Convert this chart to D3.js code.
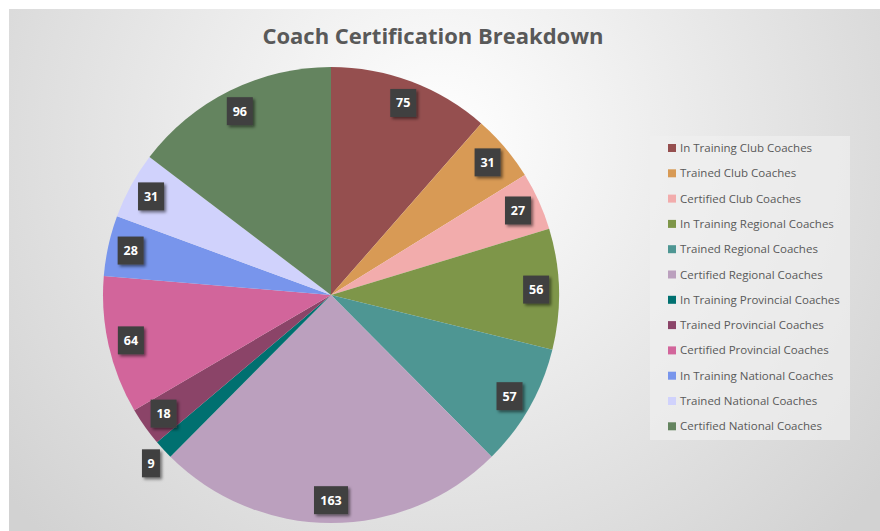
<!DOCTYPE html>
<html>
<head>
<meta charset="utf-8">
<script src="https://cdn.jsdelivr.net/npm/d3@7"></script>
<style>
  html, body { margin: 0; padding: 0; background: #fff; }
  svg { display: block; }
</style>
</head>
<body>
<svg id="chart"></svg>
<script>
// Coach certification pie chart

const categories = [
  "In Training Club Coaches",
  "Trained Club Coaches",
  "Certified Club Coaches",
  "In Training Regional Coaches",
  "Trained Regional Coaches",
  "Certified Regional Coaches",
  "In Training Provincial Coaches",
  "Trained Provincial Coaches",
  "Certified Provincial Coaches",
  "In Training National Coaches",
  "Trained National Coaches",
  "Certified National Coaches",
];
const values = [75, 31, 27, 56, 57, 163, 9, 18, 64, 28, 31, 96];
const colors = [
  "#954f4f", "#d89a55", "#f2acac", "#7e9649", "#4e9693", "#bba0be",
  "#007070", "#8b4468", "#d2659b", "#7895ec", "#d0d2fc", "#64845f",
];

const W = 880;
const H = 531;
const cx = 331;
const cy = 295;
const radius = 228;

const svg = d3.select("#chart").attr("width", W).attr("height", H);
const defs = svg.append("defs");

// background gradient (Excel-ish)
const grad = defs
  .append("radialGradient")
  .attr("id", "bg")
  .attr("gradientUnits", "userSpaceOnUse")
  .attr("cx", 440)
  .attr("cy", 140)
  .attr("r", 560);
grad.append("stop").attr("offset", "0%").attr("stop-color", "#ffffff");
grad.append("stop").attr("offset", "100%").attr("stop-color", "#d2d2d2");

const shadow = defs.append("filter").attr("id", "shadow")
  .attr("x", "-30%").attr("y", "-30%").attr("width", "170%").attr("height", "170%");
shadow.append("feDropShadow")
  .attr("dx", 2).attr("dy", 2).attr("stdDeviation", 1.6)
  .attr("flood-color", "#000").attr("flood-opacity", 0.5);

svg.append("rect")
  .attr("x", 9).attr("y", 9)
  .attr("width", W - 9).attr("height", H - 9)
  .attr("fill", "url(#bg)");

// title
svg.append("text")
  .attr("x", 433)
  .attr("y", 44)
  .attr("text-anchor", "middle")
  .attr("font-family", "'Open Sans', 'Noto Sans', sans-serif")
  .attr("font-weight", 700)
  .attr("font-size", 22)
  .attr("fill", "#595959")
  .text("Coach Certification Breakdown");

const data = categories.map((c, i) => ({ name: c, value: values[i], color: colors[i] }));

const pie = d3.pie().value((d) => d.value).sort(null);
const arcs = pie(data);
const arc = d3.arc().innerRadius(0).outerRadius(radius);
const labelArc = d3.arc().innerRadius(radius * 0.9).outerRadius(radius * 0.9);
const outerLabelArc = d3.arc().innerRadius(radius * 1.075).outerRadius(radius * 1.075);

const pieG = svg.append("g").attr("transform", `translate(${cx},${cy})`);

pieG.selectAll("path")
  .data(arcs)
  .join("path")
  .attr("d", arc)
  .attr("fill", (d) => d.data.color);

// data labels: dark boxes with white numbers
const labels = pieG.selectAll("g.lbl")
  .data(arcs)
  .join("g")
  .attr("class", "lbl")
  .attr("transform", (d) => {
    const small = d.endAngle - d.startAngle < (6 * Math.PI) / 180;
    const [x, y] = small ? outerLabelArc.centroid(d) : labelArc.centroid(d);
    return `translate(${x},${small ? y + 2 : y})`;
  });

labels.each(function (d) {
  const g = d3.select(this);
  const txt = String(d.data.value);
  const w = 10 + txt.length * 8;
  g.append("rect")
    .attr("x", -w / 2)
    .attr("y", -14)
    .attr("width", w)
    .attr("height", 28)
    .attr("fill", "#404040")
    .attr("filter", "url(#shadow)");
  g.append("text")
    .attr("text-anchor", "middle")
    .attr("dy", "0.36em")
    .attr("font-family", "'Open Sans', 'Noto Sans', sans-serif")
    .attr("font-weight", 700)
    .attr("font-size", 12.5)
    .attr("fill", "#ffffff")
    .text(txt);
});

// legend
const legG = svg.append("g").attr("transform", "translate(650,136)");
legG.append("rect")
  .attr("width", 200)
  .attr("height", 304)
  .attr("fill", "#f0f0f0")
  .attr("fill-opacity", 0.7);

const items = legG.selectAll("g.item")
  .data(data)
  .join("g")
  .attr("class", "item")
  .attr("transform", (d, i) => `translate(18,${12 + i * 25.3})`);

items.append("rect")
  .attr("x", 0)
  .attr("y", -4)
  .attr("width", 8)
  .attr("height", 8)
  .attr("fill", (d) => d.color);

items.append("text")
  .attr("x", 12)
  .attr("dy", "0.35em")
  .attr("font-family", "'Open Sans', 'Noto Sans', sans-serif")
  .attr("font-size", 11.5)
  .attr("fill", "#595959")
  .text((d) => d.name);
</script>
</body>
</html>
